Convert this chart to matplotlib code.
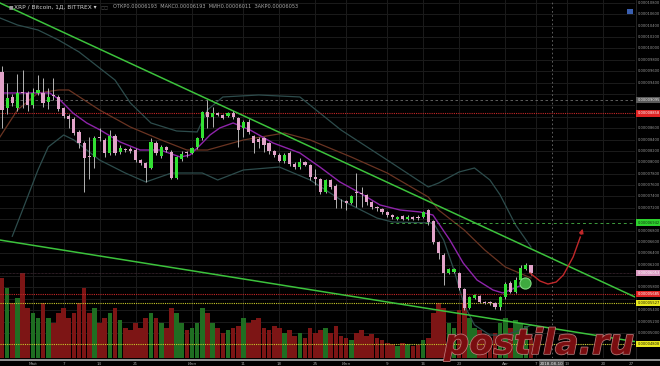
import matplotlib
matplotlib.use("Agg")
import matplotlib.pyplot as plt
import numpy as np
import matplotlib.patheffects as pe
from matplotlib import font_manager
from matplotlib.lines import Line2D
from matplotlib.patches import Rectangle
import matplotlib.transforms as mtrans

# ---------------- data (prices in satoshi, 1e-8 BTC) ----------------
# daily candles, 2018-04-25 .. 2018-08-06 (day index 0..103)
opens = [9587, 8954, 9148, 8954, 9236, 9218, 9007, 9218, 9218, 9060,
         9190, 9148, 8954, 8814, 8761, 8533, 8339, 8110, 8093, 8440,
         8392, 8164, 8462, 8181, 8230, 8225, 8216, 8040, 7988, 7900,
         8339, 8111, 8269, 8181, 7724, 8058, 8175, 8164, 8269, 8427,
         8884, 8796, 8867, 8831, 8814, 8867, 8779, 8603, 8708, 8462,
         8410, 8427, 8339, 8199, 8128, 8023, 8164, 7970, 7917, 8005,
         7953, 7735, 7707, 7478, 7689, 7584, 7345, 7320, 7285, 7470,
         7465, 7425, 7302, 7214, 7179, 7127, 7074, 7004, 7056, 7004,
         7039, 7030, 7039, 7162, 6968, 6599, 6371, 6054, 6072, 6054,
         5773, 5439, 5615, 5650, 5545, 5540, 5527, 5457, 5633, 5879,
         5721, 5931, 6125, 6193]
highs = [9700, 9400, 9200, 9560, 9620, 9260, 9300, 9530, 9480, 9300,
         9480, 9180, 8980, 8850, 8790, 8560, 8380, 8450, 8460, 8600,
         8430, 8560, 8500, 8300, 8260, 8270, 8260, 8060, 8010, 8420,
         8380, 8310, 8290, 8220, 8110, 8200, 8190, 8270, 8440, 8900,
         9095, 8972, 8880, 8850, 8890, 8900, 8800, 8740, 8760, 8480,
         8440, 8450, 8360, 8220, 8160, 8160, 8200, 8000, 8076, 8030,
         7970, 7880, 7720, 7710, 7700, 7610, 7360, 7340, 7430, 7812,
         7566, 7440, 7320, 7230, 7200, 7140, 7090, 7060, 7070, 7080,
         7060, 7070, 7150, 7180, 6990, 6620, 6400, 6150, 6140, 6080,
         5790, 5650, 5690, 5670, 5560, 5560, 5545, 5650, 5900, 5910,
         5980, 6200, 6230, 6193]
lows = [8600, 8850, 8990, 8900, 8950, 8900, 8960, 9180, 8980, 8930,
        9100, 8900, 8780, 8600, 8480, 8250, 7478, 7700, 7900, 8380,
        8100, 8130, 8130, 8140, 8180, 8160, 8000, 7960, 7654, 7880,
        8130, 8080, 8180, 7700, 7700, 8030, 8100, 8140, 8240, 8400,
        8603, 8620, 8810, 8760, 8800, 8760, 8270, 8445, 8500, 8164,
        8250, 8181, 8150, 8100, 8000, 7990, 7940, 7880, 7890, 7930,
        7689, 7600, 7440, 7460, 7530, 7197, 7197, 7162, 7270, 7214,
        7214, 7250, 7180, 7150, 7090, 7040, 7010, 6990, 6990, 6990,
        6985, 6990, 7020, 6900, 6560, 6300, 5844, 6030, 6050, 5760,
        5400, 5420, 5600, 5520, 5510, 5500, 5430, 5404, 5600, 5700,
        5700, 5910, 6100, 6011]
closes = [8919, 9130, 9042, 9218, 9218, 9007, 9218, 9271, 9042, 9148,
          9170, 8937, 8814, 8761, 8515, 8339, 8076, 8090, 8427, 8420,
          8164, 8462, 8164, 8251, 8210, 8200, 8040, 7988, 7900, 8357,
          8164, 8269, 8216, 7724, 8093, 8146, 8155, 8251, 8427, 8884,
          8796, 8867, 8831, 8779, 8867, 8796, 8568, 8708, 8533, 8339,
          8357, 8304, 8199, 8128, 8023, 8128, 7970, 7917, 8005, 7953,
          7742, 7715, 7478, 7689, 7566, 7338, 7330, 7285, 7408, 7455,
          7450, 7302, 7214, 7197, 7127, 7074, 7039, 7039, 7004, 7039,
          7004, 7015, 7127, 6951, 6599, 6406, 6054, 6125, 6125, 5791,
          5439, 5633, 5668, 5545, 5527, 5520, 5457, 5633, 5861, 5721,
          5931, 6142, 6195, 6053]
volumes = [80, 70, 55, 60, 85, 50, 45, 40, 55, 40,
           35, 45, 50, 40, 45, 55, 70, 45, 50, 35,
           40, 45, 50, 38, 30, 28, 35, 30, 40, 45,
           40, 35, 30, 50, 45, 35, 28, 30, 35, 50,
           45, 35, 30, 25, 28, 30, 32, 40, 35, 38,
           40, 30, 28, 32, 30, 25, 28, 22, 25, 20,
           30, 25, 28, 30, 25, 32, 22, 20, 18, 25,
           28, 22, 24, 20, 18, 15, 14, 12, 15, 14,
           12, 13, 18, 20, 45, 55, 50, 35, 30, 48,
           55, 40, 30, 28, 22, 20, 25, 35, 40, 30,
           38, 35, 32, 20]

# indicator lines (day index, price)
bb_upper_day = [-0.4, 3, 7, 11, 15, 17, 22, 25, 29, 34, 38, 40, 43, 50, 58, 66, 75, 83, 85, 89, 92, 95, 97, 100, 103]
bb_upper_val = [10536, 10413, 10325, 10149, 9939, 9798, 9446, 9042, 8691, 8550, 8533, 8919, 9148, 9183, 9148,
                8568, 8040, 7566, 7636, 7830, 7900, 7689, 7425, 6898, 6511]
bb_lower_day = [2, 4, 7, 9, 12, 14, 19, 24, 28, 33, 39, 42, 47, 54, 60, 66, 73, 76, 84, 86, 88, 90, 92, 95, 98, 101, 103]
bb_lower_val = [6700, 7162, 7865, 8269, 8480, 8392, 8040, 7812, 7654, 7812, 7812, 7689, 7865, 7917, 7689, 7338,
                7021, 6951, 6933, 6634, 6107, 5492, 5141, 4965, 4965, 5053, 5141]
basis_day = [-0.4, 3, 7, 11, 13, 19, 25, 31, 36, 40, 47, 55, 60, 68, 75, 83, 85, 90, 94, 98, 103]
basis_val = [8445, 8919, 9218, 9271, 9271, 8919, 8620, 8392, 8216, 8216, 8392, 8515, 8392, 8093, 7812, 7390,
             7162, 6810, 6459, 6160, 5967]
ma_day = [-0.4, 3.5, 9.3, 11.3, 13.8, 16.5, 19.1, 23, 26.9, 30.8, 34.7, 36.6, 38.6, 40.5, 42.4, 45, 48.3, 52.8,
          58, 61.9, 65.8, 69.7, 73.6, 77.5, 81.4, 83.9, 87.2, 89.8, 92.5, 95.6, 97.5, 100.3, 102.8]
ma_val = [9218, 9218, 9218, 9095, 8867, 8691, 8568, 8357, 8216, 8216, 8093, 8128, 8304, 8480, 8603, 8691, 8568,
          8339, 8164, 7917, 7654, 7461, 7250, 7162, 7127, 7074, 6634, 6230, 5931, 5756, 5703, 5808, 5896]

# drawings
trend_upper = ([-0.4, 123.25], [10800, 5633])
trend_lower = ([-0.4, 123.25], [6634, 4849])
forecast_day = [102.8, 104.75, 106.3, 107.9, 109.3, 111.2, 112.6, 113.2]
forecast_val = [6054, 5914, 5861, 5896, 6019, 6336, 6687, 6880]
marker_point = (101.8, 5879)

crosshair_day, crosshair_price = 107, 9095
resistance_red = 8858
green_level, green_level_start = 6942, 75.5
last_price = 6053
support_red = 5685
support_yellow = 5527
support_yellow2 = 4808

date_ticks = [6, 12, 19, 26, 37, 47, 54, 61, 67, 75, 82, 89, 98, 104, 110, 117, 124]
date_labels = ["Май", "7", "14", "21", "Июн", "11", "18", "25", "Июл", "9", "16", "23",
               "Авг", "7", "13", "20", "27"]
price_ticks = list(range(4800, 10801, 200))

title = "XRP / Bitcoin, 1Д, BITTREX"
ohlc_text = "ОТКР0.00006193  МАКС0.00006193  МИН0.00006011  ЗАКР0.00006053"

SAT = 1e-8

# ---------------- figure ----------------
W, H = 660, 366
fig = plt.figure(figsize=(6.6, 3.66), dpi=100, facecolor="black")
PR, PB = 635, 358
rect = [0, (H - PB) / H, PR / W, PB / H]
axv = fig.add_axes(rect)          # background + volume
ax = fig.add_axes(rect, sharex=axv)  # price
axv.set_zorder(1)
ax.set_zorder(2)
ax.patch.set_visible(False)
axv.set_facecolor("black")
for a in (ax, axv):
    a.set_axis_off()

ax.set_xlim(-0.39, 123.25)
ax.set_ylim(4561, 10852)
axv.set_ylim(0, 358)

# grid (drawn on background axis)
for p in price_ticks:
    axv.add_line(Line2D([-1, 130], [p, p], transform=ax.transData, color="#1b1b1b", lw=0.7, zorder=0))
for d in date_ticks:
    axv.axvline(d, color="#1b1b1b", lw=0.7, zorder=0)

# volume
n = len(closes)
xd = np.arange(n)
O = np.array(opens); C = np.array(closes); Hh = np.array(highs); L = np.array(lows)
up = C >= O
vcol = np.where(up, "#1f6e22", "#7d1515")
axv.bar(xd, volumes, width=0.9, color=vcol, linewidth=0, zorder=1)

# bollinger + MAs
ax.plot(bb_upper_day, bb_upper_val, color="#2d4c4c", lw=0.9, zorder=2)
ax.plot(bb_lower_day, bb_lower_val, color="#2d4c4c", lw=0.9, zorder=2)
ax.plot(basis_day, basis_val, color="#6a3422", lw=0.9, zorder=2)
ax.plot(ma_day, ma_val, color="#8e24aa", lw=1.0, zorder=3)

# horizontal levels
ax.axhline(crosshair_price, color="#6d6d6d", lw=0.6, ls=(0, (3, 3)), zorder=2)
ax.axvline(crosshair_day, color="#6d6d6d", lw=0.6, ls=(0, (2, 3)), zorder=2)
ax.axhline(resistance_red, color="#c62828", lw=0.8, ls=(0, (1, 1)), zorder=2)
ax.hlines(green_level, green_level_start, 123.25, color="#3d9b3d", lw=0.7, ls=(0, (3, 3)), zorder=2)
ax.axhline(last_price, color="#5a3a4a", lw=0.5, ls=(0, (1, 1)), zorder=2)
ax.axhline(support_red, color="#c62828", lw=0.8, ls=(0, (1, 1)), zorder=2)
ax.axhline(support_yellow, color="#c9c92a", lw=0.8, ls=(0, (1, 1)), zorder=2)
ax.axhline(support_yellow2, color="#c9c92a", lw=0.8, ls=(0, (1, 1)), zorder=2)

# trend lines
ax.plot(*trend_upper, color="#3cc23c", lw=1.1, zorder=4)
ax.plot(*trend_lower, color="#3cc23c", lw=1.1, zorder=4)

# candles
ccol = np.where(up, "#33e033", "#e2a3c9")
ax.vlines(xd, L, Hh, colors="#b4b4b4", lw=0.7, zorder=5)
body_lo = np.minimum(O, C)
body_h = np.maximum(np.abs(C - O), 14)
ax.bar(xd, body_h, bottom=body_lo, width=0.62, color=ccol, linewidth=0, zorder=6)

# forecast arrow + marker
ax.plot(forecast_day[:-1], forecast_val[:-1], color="#c0282a", lw=1.0, zorder=7)
ax.annotate("", xy=(forecast_day[-1], forecast_val[-1]), xytext=(forecast_day[-2], forecast_val[-2]),
            arrowprops=dict(arrowstyle="-|>", color="#c0282a", lw=1.0, mutation_scale=6), zorder=7)
ax.plot([marker_point[0]], [marker_point[1]], "o", ms=8, mfc="#3faa3f", mec="#7fdc7f", mew=0.8, zorder=8)

# ---------------- right price scale ----------------
fig.add_artist(Line2D([PR / W + 0.0008] * 2, [(H - PB) / H, 1], transform=fig.transFigure, color="#2a2a2a", lw=0.6))
bt = mtrans.blended_transform_factory(ax.transAxes, ax.transData)
tags = [(crosshair_price, "#5a5a5a", "#eeeeee"),
        (resistance_red, "#e02424", "#ffffff"),
        (green_level, "#2ed12e", "#10300f"),
        (last_price, "#d99ac0", "#ffffff"),
        (support_red, "#e02424", "#ffffff"),
        (support_yellow, "#e8e820", "#222200"),
        (support_yellow2, "#e8e820", "#222200")]
tag_prices = [t[0] for t in tags]
LX = 1 + 2.5 / PR
for p in price_ticks:
    if min(abs(p - tp) for tp in tag_prices) < 110:
        continue
    ax.text(LX, p, f"{p * SAT:.8f}", transform=bt, fontsize=2.6, color="#9a9a9a", va="center", ha="left",
            clip_on=False, zorder=10)

for p, fc, tc in tags:
    ax.text(LX, p, f"{p * SAT:.8f}", transform=bt, fontsize=2.6, color=tc, va="center", ha="left",
            clip_on=False, zorder=11,
            bbox=dict(boxstyle="square,pad=0.3", fc=fc, ec="none"))

# ---------------- date scale ----------------
fig.add_artist(Rectangle((0, (H - 361) / H), 1, 2.2 / H, transform=fig.transFigure, color="#8e8e8e", lw=0))
dt = mtrans.blended_transform_factory(ax.transData, fig.transFigure)
for d, lab in zip(date_ticks, date_labels):
    ax.text(min(d, 122.6), (H - 363.8) / H, lab, transform=dt, fontsize=3.0, color="#a0a0a0", ha="center",
            va="center", clip_on=False, zorder=10)
ax.text(crosshair_day, (H - 363.8) / H, "2018-08-10", transform=dt, fontsize=3.0, color="#eeeeee",
        ha="center", va="center", clip_on=False, zorder=11,
        bbox=dict(boxstyle="square,pad=0.25", fc="#4a4a4a", ec="none"))

# ---------------- header ----------------
fig.text(9 / W, 1 - 7 / H, "■", fontsize=3.5, color="#9a9a9a", va="center")
fig.text(14 / W, 1 - 7 / H, title + " ▾", fontsize=4.2, color="#d0d0d0", va="center")
fig.text(101 / W, 1 - 7 / H, "◻◻", fontsize=3.5, color="#555555", va="center")
fig.text(113 / W, 1 - 7 / H, ohlc_text, fontsize=3.6, color="#a8a8a8", va="center")
fig.add_artist(Rectangle((627 / W, 1 - 15 / H), 6 / W, 6 / H, transform=fig.transFigure, color="#3a5fb0", lw=0))

# ---------------- watermark ----------------
names = {f.name for f in font_manager.fontManager.ttflist}
wm_family = "Liberation Sans Narrow" if "Liberation Sans Narrow" in names else "DejaVu Sans"
wm = fig.text(444 / W, (H - 354) / H, "postila.ru", fontsize=40, fontstyle="italic", fontweight="bold",
              family=wm_family, color="#7a0d10", alpha=0.92, va="baseline", ha="left", zorder=20)
wm.set_path_effects([pe.withStroke(linewidth=1.0, foreground="#c98a8a")])
r = fig.canvas.get_renderer()
wext = wm.get_window_extent(renderer=r)
wm.set_fontsize(40 * 190 / wext.width)

fig.savefig("out.png", dpi=100, facecolor="black")
